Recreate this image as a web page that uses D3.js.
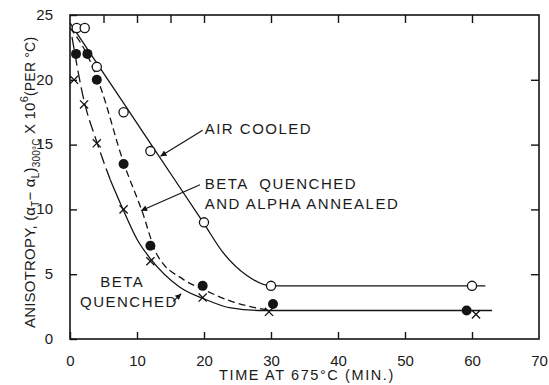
<!DOCTYPE html>
<html>
<head>
<meta charset="utf-8">
<script src="https://cdn.jsdelivr.net/npm/d3@7"></script>
<style>
  body { margin: 0; background: #fff; }
  svg { display: block; }
  text { font-family: "Liberation Sans", Arial, sans-serif; fill: #1a1a1a; }
</style>
</head>
<body>
<svg id="chart" width="549" height="385"></svg>
<script>
const airT = [1, 2.2, 4, 8, 12, 20, 30, 60];
const airV = [24, 24, 21, 17.5, 14.5, 9, 4.1, 4.1];
const annealT = [0.9, 2.6, 4, 8, 12, 19.8, 30.3, 59.2];
const annealV = [22, 22, 20, 13.5, 7.2, 4.1, 2.7, 2.2];
const betaT = [0.6, 2.1, 4, 8, 12, 19.8, 29.7, 60.6];
const betaV = [20, 18.1, 15.1, 10, 6, 3.2, 2.1, 1.9];

// hand drawn fitted curves (knots)
const airCurveT = [0, 4.5, 8.4, 12.9, 20, 22.8, 26.4, 30, 62];
const airCurveV = [24.4, 20.9, 17.9, 14.4, 8.9, 6.7, 4.9, 4.1, 4.1];
const annealCurveT = [0, 2.5, 4.5, 8, 10.8, 12.9, 16.9, 20, 24.4, 28.8, 30];
const annealCurveV = [24, 22, 19.5, 13.6, 9.8, 6.6, 4.6, 3.8, 2.85, 2.3, 2.2];
const betaCurveT = [0.3, 2, 4, 6, 8, 10, 12, 16.4, 20, 24, 28.8, 63];
const betaCurveV = [23.3, 18.6, 15.2, 12.3, 9.9, 7.7, 6.2, 4.0, 3.1, 2.4, 2.2, 2.2];

const xTicks = [0, 10, 20, 30, 40, 50, 60, 70];
const yTicks = [0, 5, 10, 15, 20, 25];
const topTicks = [5, 10, 15, 20, 30, 40, 50, 60];

const zip = (t, v) => t.map((d, i) => ({t: d, v: v[i]}));

const svg = d3.select("#chart");
const pLeft = 70, pRight = 539, pTop = 15, pBottom = 339;

const x = d3.scaleLinear().domain([0, 70]).range([pLeft, pRight]);
const y = d3.scaleLinear().domain([0, 25]).range([pBottom, pTop]);

const ink = "#141414";

// frame
svg.append("rect")
  .attr("x", pLeft).attr("y", pTop)
  .attr("width", pRight - pLeft).attr("height", pBottom - pTop)
  .attr("fill", "none").attr("stroke", ink).attr("stroke-width", 1.6);

// axes, ticks pointing inwards
const fmt = d3.format("d");
const gx = svg.append("g").attr("transform", `translate(0,${pBottom})`)
  .call(d3.axisBottom(x).tickValues(xTicks).tickSize(-7).tickPadding(16).tickFormat(fmt));
const gy = svg.append("g").attr("transform", `translate(${pLeft},0)`)
  .call(d3.axisLeft(y).tickValues(yTicks).tickSize(-7).tickPadding(17).tickFormat(fmt));
svg.append("g").attr("transform", `translate(0,${pTop})`)
  .call(d3.axisTop(x).tickValues(topTicks).tickSize(-8).tickFormat(""));
svg.append("g").attr("transform", `translate(${pRight},0)`)
  .call(d3.axisRight(y).tickValues([5, 10, 15, 20]).tickSize(-8).tickFormat(""));

svg.selectAll(".domain").remove();
svg.selectAll(".tick line").attr("stroke", ink).attr("stroke-width", 1.4);
gx.selectAll(".tick text").attr("font-size", 15).attr("fill", ink);
gy.selectAll(".tick text").attr("font-size", 15).attr("fill", ink).attr("dy", "0.28em");
gx.selectAll(".tick").filter(d => d === 70).select("line").remove();

// curves
const line = d3.line().x(d => x(d.t)).y(d => y(d.v)).curve(d3.curveMonotoneX);
const plot = svg.append("g").attr("fill", "none").attr("stroke", ink).attr("stroke-width", 1.3);

plot.append("path").datum(zip(airCurveT, airCurveV)).attr("d", line);
plot.append("path").datum(zip(annealCurveT, annealCurveV)).attr("d", line)
  .attr("stroke-dasharray", "7,4");
const beta = zip(betaCurveT, betaCurveV);
plot.append("path").datum(beta.filter(d => d.t <= 6)).attr("d", line)
  .attr("stroke-dasharray", "12,5");
plot.append("path").datum(beta.filter(d => d.t >= 6)).attr("d", line);

// markers
const marks = svg.append("g");
marks.selectAll("circle.air").data(zip(airT, airV)).join("circle")
  .attr("cx", d => x(d.t)).attr("cy", d => y(d.v)).attr("r", 4.6)
  .attr("fill", "#fff").attr("stroke", ink).attr("stroke-width", 1.3);
marks.selectAll("circle.anneal").data(zip(annealT, annealV)).join("circle")
  .attr("cx", d => x(d.t)).attr("cy", d => y(d.v)).attr("r", 5)
  .attr("fill", ink);
const cross = d3.symbol().type(d3.symbolX).size(45);
marks.selectAll("path.beta").data(zip(betaT, betaV)).join("path")
  .attr("transform", d => `translate(${x(d.t)},${y(d.v)})`)
  .attr("d", cross)
  .attr("fill", "none").attr("stroke", ink).attr("stroke-width", 1.3);

// annotations
svg.append("defs").append("marker")
  .attr("id", "head").attr("viewBox", "0 0 10 10")
  .attr("refX", 10).attr("refY", 5)
  .attr("markerWidth", 9).attr("markerHeight", 6)
  .attr("markerUnits", "userSpaceOnUse")
  .attr("orient", "auto")
  .append("path").attr("d", "M0,0 L10,5 L0,10 Z").attr("fill", ink);

const arrows = [
  {t1: 19.8, v1: 16.1, t2: 13.5, v2: 14.1},
  {t1: 19.4, v1: 11.9, t2: 10.6, v2: 9.9},
  {t1: 15.4, v1: 2.9, t2: 16.6, v2: 3.5}
];
svg.append("g").selectAll("line").data(arrows).join("line")
  .attr("x1", d => x(d.t1)).attr("y1", d => y(d.v1))
  .attr("x2", d => x(d.t2)).attr("y2", d => y(d.v2))
  .attr("stroke", ink).attr("stroke-width", 1.2)
  .attr("marker-end", "url(#head)");

const notes = [
  {text: "AIR COOLED", t: 20.1, v: 15.8, anchor: "start"},
  {text: "BETA  QUENCHED", t: 20.1, v: 11.6, anchor: "start"},
  {text: "AND ALPHA ANNEALED", t: 20.1, v: 10.0, anchor: "start"},
  {text: "BETA", t: 7.8, v: 4.0, anchor: "middle"},
  {text: "QUENCHED", t: 8.8, v: 2.45, anchor: "middle"}
];
svg.append("g").selectAll("text").data(notes).join("text")
  .attr("x", d => x(d.t)).attr("y", d => y(d.v))
  .attr("text-anchor", d => d.anchor)
  .attr("font-size", 15).attr("letter-spacing", 1.5)
  .style("white-space", "pre")
  .text(d => d.text);

// axis titles
svg.append("text")
  .attr("x", 307).attr("y", 380)
  .attr("text-anchor", "middle").attr("font-size", 14.5).attr("letter-spacing", 1.6)
  .text("TIME AT 675°C (MIN.)");

const yl = svg.append("text")
  .attr("transform", "translate(35,328) rotate(-90)")
  .attr("font-size", 15).attr("letter-spacing", 0.2);
yl.append("tspan").text("ANISOTROPY, (α");
yl.append("tspan").attr("dy", 4).attr("font-size", 10).text("T");
yl.append("tspan").attr("dy", -4).text("− α");
yl.append("tspan").attr("dy", 4).attr("font-size", 10).text("L");
yl.append("tspan").attr("dy", -4).text(")");
yl.append("tspan").attr("dy", 5).attr("font-size", 10).text("300°C");
yl.append("tspan").attr("dy", -5).text(" X 10");
yl.append("tspan").attr("dy", -7).attr("font-size", 11).text("6");
yl.append("tspan").attr("dy", 7).attr("font-size", 14).text("(PER °C)");
</script>
</body>
</html>
